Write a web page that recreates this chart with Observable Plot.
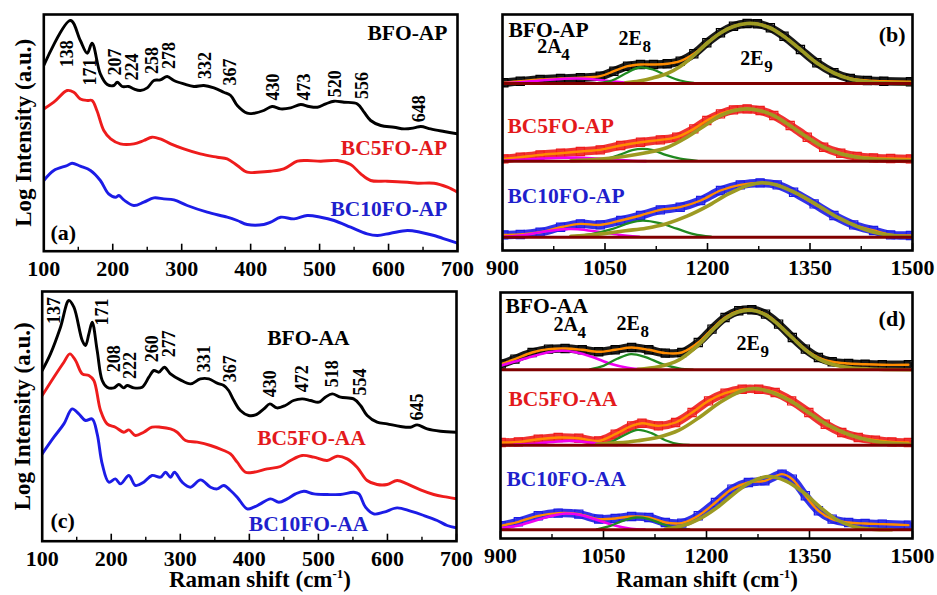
<!DOCTYPE html>
<html><head><meta charset="utf-8">
<script src="https://cdn.jsdelivr.net/npm/d3@7"></script>
<script src="https://cdn.jsdelivr.net/npm/@observablehq/plot@0.6"></script>
<style>
body{margin:0;background:#fff;}
#fig{position:relative;width:937px;height:595px;overflow:hidden;background:#fff;font-family:"Liberation Serif","Times New Roman",serif;}
.xt{position:absolute;font-weight:bold;font-size:23px;line-height:23px;white-space:nowrap;text-align:center;width:300px;}
.xt sup{font-size:13px;vertical-align:9px;line-height:0;}
</style></head><body><div id="fig"></div>
<script>
// ---------- Panel (a): as-prepared, 100-700 cm-1  [Raman shift, log intensity (a.u.)]
const a_BFO = [[100,185.7],[138.7,230.7],[153,210.7],[163,198],[170,208],[182,177.3],[192,166.7],[201.6,165.7],[206.5,169],[213.7,164.7],[223,164.7],[230.6,162.3],[240,160.7],[250,163.3],[259.7,170.7],[269,171.3],[279,174.7],[288.7,170.7],[303,167.3],[317.7,164.7],[332,165.7],[346.8,163.3],[361,159],[371,155.7],[380.6,145.7],[395,138],[405,138],[419,140.7],[431,144.7],[443.5,142.3],[458,143.3],[472.6,146.7],[484.7,144.7],[496.8,144],[508.9,147.3],[521,150],[535.5,149],[554.8,147.3],[564.5,139],[574,130.7],[588.7,125.7],[608,124],[622.6,122.3],[637,123.3],[646.8,124.7],[661,122.3],[680.6,119.7],[700,117.3]];
const a_BC5 = [[100,142.3],[114.5,149],[133.9,160.7],[143.5,159],[153,152.3],[163,150.7],[170,150.7],[177,140.7],[187,120.7],[197,112.3],[211,107.3],[230.6,107.3],[245,110.7],[257,114],[269,112.3],[284,107.3],[303,102.3],[327,97.3],[351.6,94],[366,92.3],[380.6,85.7],[395,79],[409.7,79],[429,80],[448,82.3],[467.8,90],[482,90.7],[501.6,90],[525.8,90.7],[545,86.7],[559.7,77.3],[574,70.7],[598,70],[627.4,69],[642,68],[666,68],[685.5,64],[700,59]];
const a_BC10 = [[100,70.7],[114.5,80.7],[134,85.7],[141,88],[153,85],[167.7,80.7],[182,70.7],[194,57.3],[204,54],[209,55.7],[216,51.3],[230.6,45.7],[245,49],[259.7,53.3],[274,52.3],[288.7,51.3],[308,45.7],[337,39],[366,34],[380.6,30.7],[395,26.7],[419,26.7],[429,29],[443.5,34],[463,32.3],[482,35.7],[501.6,34],[521,30.7],[545,24],[569,17.3],[584,15.7],[603,18],[627.4,20.7],[646,19],[666,15.7],[685.5,11.3],[700,8]];
const a_peaks = [["138",133.9,184],["171",166.8,165.7],["207",204,175.7],["224",228.2,170.7],["258",257.3,177.3],["278",281.5,182.3],["332",334.7,172.3],["367",370,165.7],["430",433,150.7],["473",477.4,150.7],["520",523.4,154],["556",562,152.3],["648",644.4,129]];
const a_names = [["BFO-AP",685.5,211.3],["BC5FO-AP",685,96.7],["BC10FO-AP",685.5,35.7]];

// ---------- Panel (c): annealed, 100-700 cm-1
const c_BFO = [[100,170.7],[112,187.3],[126.5,214],[138.6,240.7],[145.9,234],[158,200.7],[162.7,195.7],[167.6,207.3],[172.4,219],[179.6,190.7],[186.9,160.7],[194,154],[203.8,153.3],[211,156.7],[218,153.3],[223,155.7],[232.7,153.3],[244.8,154],[254.5,164],[261.7,170.7],[269,169],[277,174],[285.8,167.3],[300,161.3],[314.8,157.3],[329,162.3],[341.4,162.3],[353.4,158],[363,155.7],[370,150.7],[377.6,140.7],[387,130.7],[399,125.7],[409,126.3],[421,132.3],[429.7,137.3],[440,133.3],[452,135.7],[464,140.7],[476.5,142.3],[488.6,140.7],[500.6,139],[510,144],[520,147.3],[532,144],[551,142.3],[561,135.7],[570.6,125.7],[585,119],[599.6,117.3],[618.9,114.7],[633.4,114],[643,116.3],[657.5,112.3],[676.8,110],[700,109]];
const c_BC5 = [[100,145.7],[116.9,164],[131.4,179],[140,187.3],[148.3,180.7],[158,167.3],[167.6,165.7],[174.8,160.7],[184.5,130.7],[194,117.3],[206,114],[218.3,109],[225.5,111.3],[235,105.7],[247,109],[259,114],[271.4,114],[285.8,112.3],[295.5,109],[307.6,100.7],[324.5,99],[343.8,95.7],[363,90.7],[372.7,87.3],[382.4,79],[394.4,69],[406.5,69],[425.8,72.3],[445,74.7],[459.6,80.7],[476.5,85.7],[493.4,84],[512.7,80.7],[527,85],[541.7,82.3],[556,74],[570.6,60.7],[585,56.7],[599.6,56.7],[614,60.7],[628.6,57.3],[647.9,51.3],[667,46.7],[686.5,44],[700,42.3]];
const c_BC10 = [[100,87.3],[116.9,104],[131.4,117.3],[143.4,132.3],[153,127.3],[162.7,120.7],[172.4,122.3],[179.6,107.3],[186.9,77.3],[196.5,59],[206,62.3],[213.4,57.3],[225.5,65.7],[235,55.7],[247,59],[259,65.7],[271.4,64],[278.6,69],[285.8,64],[291.6,69],[302.7,59],[314.8,54],[329.3,61.3],[343.8,54],[353.4,52.3],[363,55.7],[372.7,50.7],[382.4,44],[396.9,32.3],[406.5,34],[416,37.3],[430.6,42.3],[442.7,39],[454.8,42.3],[466.9,47.3],[479,50],[493.4,47.3],[512.7,46.7],[532,46.7],[551.3,49],[558.6,47.3],[568.2,34],[580,27.3],[594.8,29],[614,33.3],[633.4,30],[652.7,25.7],[672,20.7],[686.5,15.7],[700,13.3]];
const c_peaks = [["137",117,217.3],["171",186.9,215.7],["208",203.8,169],["222",227,162.3],["260",259.3,179],["277",283.4,184],["331",334,169],["367",372.7,159],["430",430.6,144],["472",476.5,149],["518",520,154],["554",561,145.7],["645",643,120.7]];
const c_names = [["BFO-AA",425.8,196.7],["BC5FO-AA",411.3,96.7],["BC10FO-AA",399.3,10]];

// ---------- Panel (b): as-prepared, 900-1500 cm-1 (height above each baseline)
const b_offsets = [167, 89.3, 13.3];
const b_BFO_data = [[902,0.7],[926,2.3],[955,4],[985,5],[1014,5.7],[1043,7.3],[1063,12.3],[1083,17.3],[1102,19],[1121,19],[1141,19.7],[1160,22.3],[1180,29.7],[1199,40.7],[1219,50.7],[1238,57.3],[1258,60],[1273,59.7],[1292,55.7],[1312,47.3],[1336,34],[1360,20.7],[1385,10.7],[1409,5],[1434,3],[1458,2.3],[1497,1.7]];
const b_BFO_A4 = [[900,0.3],[930,1.5],[960,3.2],[990,4.8],[1010,5],[1035,4],[1060,2.2],[1085,0.8],[1110,0.2]];
const b_BFO_E8 = [[1040,0.5],[1060,3],[1080,10],[1100,16],[1120,14],[1140,8],[1160,3],[1180,0.5]];
const b_BFO_E9 = [[1080,0.8],[1100,2.5],[1120,5.5],[1141,10],[1160,17],[1180,28],[1199,40],[1219,50.5],[1238,57],[1258,60],[1273,59.5],[1292,55.5],[1312,47],[1336,34],[1360,20.5],[1385,10.5],[1409,4.5],[1434,1.8],[1460,0.6],[1500,0.1]];
const b_BC5_data = [[902,2.3],[926,4],[955,6.3],[985,8],[1014,9.7],[1043,11.3],[1073,15.7],[1102,19],[1131,21.3],[1155,24],[1180,32.3],[1199,40.7],[1219,47.3],[1238,51.3],[1258,52.3],[1277,50.7],[1297,45.7],[1321,35.7],[1346,24],[1370,14],[1395,8],[1419,4.7],[1443,3.3],[1468,2.7],[1497,2.3]];
const b_BC5_A4 = [[900,0.5],[930,1.5],[960,2.6],[990,3.4],[1015,3.5],[1040,2.6],[1065,1.3],[1090,0.4],[1110,0.1]];
const b_BC5_E8 = [[1030,0.3],[1050,2],[1070,6],[1090,11],[1105,12.3],[1120,11],[1140,6],[1160,2.5],[1185,0.3]];
const b_BC5_E9 = [[1000,0.5],[1040,2],[1080,5],[1110,8.5],[1140,13.5],[1170,24],[1199,37],[1219,45.5],[1238,50.5],[1258,52.3],[1277,50.5],[1297,45.5],[1321,35.5],[1346,24],[1370,14],[1395,7.5],[1419,4],[1443,2.2],[1470,1.2],[1500,0.6]];
const b_BC10_data = [[902,2.3],[926,2.7],[955,5],[985,10],[1014,13.3],[1043,12.3],[1073,16.7],[1102,21.7],[1131,27.3],[1160,30],[1190,36.7],[1219,46.7],[1248,52.3],[1277,54.3],[1302,52.3],[1326,45],[1356,33.3],[1385,21.7],[1414,12.3],[1443,6.7],[1468,2.3],[1497,1.7]];
const b_BC10_A4 = [[900,0.5],[930,2],[960,5.5],[990,8],[1010,8],[1040,5.5],[1070,2.5],[1100,0.5]];
const b_BC10_E8 = [[1000,0.5],[1030,3],[1060,8],[1085,14],[1105,16.5],[1130,14],[1155,8.5],[1180,3],[1205,0.5]];
const b_BC10_E9 = [[1000,1],[1040,3],[1080,6.5],[1110,9],[1140,13.5],[1170,21],[1200,31],[1230,43],[1260,52],[1280,54.5],[1300,52.5],[1330,44],[1360,32.5],[1390,20],[1420,10.5],[1450,4],[1480,1.2],[1500,0.5]];
const b_names = [["BFO-AP",908.8,214],["BC5FO-AP",907.3,117.3],["BC10FO-AP",907.3,47.3]];
const b_modes = [["2A","4",950.8,197.7],["2E","8",1069.8,206],["2E","9",1248,186]];

// ---------- Panel (d): annealed, 900-1500 cm-1
const d_offsets = [168.7, 93.3, 8.7];
const d_BFO_data = [[901,5.7],[921,10.7],[946,17.3],[970,20.7],[994,21.3],[1019,20],[1043,18],[1067,20],[1091,22.3],[1116,20],[1140,16.7],[1164,17.3],[1188,27.3],[1208,40.7],[1227,52.3],[1247,59],[1266,60],[1286,55.7],[1305,45.7],[1325,32.3],[1344,20.7],[1363,12.3],[1383,8],[1407,6.3],[1431,5.5],[1456,5],[1494,5]];
const d_BFO_A4 = [[900,4],[920,8],[945,13],[970,17.5],[990,19],[1010,17.5],[1035,12.5],[1060,6],[1085,2],[1110,0.3]];
const d_BFO_E8 = [[1030,0.5],[1050,4],[1070,11],[1090,15.7],[1110,13],[1135,6],[1160,1.5],[1180,0.2]];
const d_BFO_E9 = [[1100,0.5],[1130,3],[1160,10],[1190,26],[1208,39],[1227,51],[1247,58],[1266,59.5],[1286,55],[1305,45],[1325,32],[1344,20],[1363,11],[1383,5.5],[1410,2],[1450,0.5],[1500,0.1]];
const d_BC5_data = [[901,2.7],[926,3.3],[955,6],[984,7.7],[1014,7],[1043,4.3],[1067,11],[1091,19.3],[1106,22],[1130,19.3],[1155,22.7],[1179,32.7],[1203,44.3],[1227,52],[1252,56],[1276,56],[1300,52.7],[1324,44.3],[1349,32.7],[1373,21],[1397,12.7],[1421,7.7],[1446,5],[1470,3.3],[1494,2.7]];
const d_BC5_A4 = [[920,0.3],[950,1.5],[980,3.5],[1000,4.3],[1020,3.5],[1045,1.5],[1070,0.3]];
const d_BC5_E8 = [[1040,0.3],[1060,3],[1080,10],[1100,15.3],[1120,12],[1140,5],[1160,1],[1175,0.2]];
const d_BC5_E9 = [[1040,1],[1070,2.3],[1100,4.5],[1130,8],[1160,15],[1190,28],[1220,43],[1250,54],[1268,56.7],[1290,54],[1320,45],[1350,32],[1380,19],[1410,10],[1440,4.5],[1470,1.8],[1500,0.7]];
const d_BC10_data = [[901,4],[926,8],[955,14],[984,16.7],[1014,15.7],[1043,10.7],[1067,11.3],[1091,13.3],[1116,12.3],[1140,7.3],[1164,6.7],[1188,14],[1213,27.3],[1237,40.7],[1261,47.3],[1285,49],[1310,55.7],[1325,50.7],[1344,34],[1363,19],[1383,10.7],[1407,7.3],[1431,6.3],[1456,5.7],[1494,4.7]];
const d_BC10_A4 = [[900,1.5],[925,4],[950,9],[975,14],[995,16.3],[1015,15],[1040,10],[1065,4.5],[1090,1],[1110,0.2]];
const d_BC10_E8 = [[1040,0.5],[1060,4],[1080,9.5],[1097,12.3],[1115,11],[1135,6],[1155,2],[1175,0.3]];
const d_BC10_E9 = [[1140,0.8],[1165,4],[1190,11],[1215,22],[1240,36],[1265,48],[1290,53.3],[1315,49],[1340,38],[1365,23],[1390,10],[1415,3],[1440,0.7],[1470,0.1]];
const d_names = [["BFO-AA",907.3,226],["BC5FO-AA",911.7,132.7],["BC10FO-AA",908.7,52.7]];
const d_modes = [["2A","4",977.2,207.7],["2E","8",1069,208.7],["2E","9",1243.7,188.7]];

// ---------- ticks
const lowMajor = [100,200,300,400,500,600,700];
const lowMinor = [150,250,350,450,550,650];
const highMajor = [900,1050,1200,1350,1500];
const highMinor = [975,1125,1275,1425];

// ---------- styles
const FONT = "'Liberation Serif','Times New Roman',serif";
const COLORS = ["#000000", "#ee1c1c", "#1c1ce6"];
const TEXTCOLORS = ["#000000", "#e3191c", "#1f1fcc"];
const FIT = {sum: "#ff8c00", A4: "#f000f0", E8: "#208a20", E9: "#9d9a22", base: "#800000"};
const fig = document.getElementById("fig");

function panel(box, frame, xDomain, yDomain, marks, ticks) {
  const [left, top, width, height] = box;
  const [fl, fr, ft, fb] = frame;
  const ph = fb - ft;
  const svg = Plot.plot({
    width, height,
    marginLeft: fl - left, marginRight: left + width - fr,
    marginTop: ft - top, marginBottom: top + height - fb,
    x: {domain: xDomain, axis: null},
    y: {domain: yDomain, axis: null},
    style: {background: "transparent", overflow: "visible", fontFamily: FONT, fontWeight: "bold", fontSize: "20px", color: "#000"},
    marks: [
      ...marks,
      Plot.ruleX(ticks[0], {x: d => d, insetTop: ph - 7, stroke: "#000", strokeWidth: 1.6}),
      Plot.ruleX(ticks[1], {x: d => d, insetTop: ph - 4, stroke: "#000", strokeWidth: 1.4}),
      Plot.axisX({ticks: ticks[0], tickSize: 0, tickPadding: 9, fontSize: 22, fontWeight: "bold", label: null, tickFormat: d => String(d)}),
      Plot.frame({stroke: "#000", strokeWidth: 2.6})
    ]
  });
  svg.style.position = "absolute";
  svg.style.left = left + "px";
  svg.style.top = top + "px";
  fig.appendChild(svg);
}

function lowMarks(series, peaks, names, tag) {
  const m = [];
  series.forEach((s, i) => m.push(Plot.line(s, {x: d => d[0], y: d => d[1], stroke: COLORS[i], strokeWidth: 2.9, curve: "catmull-rom", clip: true})));
  m.push(Plot.text(peaks, {x: d => d[1], y: d => d[2], text: d => d[0], rotate: -90, textAnchor: "start", lineAnchor: "middle", fontSize: 18, fontWeight: "bold", fill: "#000"}));
  m.push(Plot.text(names, {x: d => d[1], y: d => d[2], text: d => d[0], textAnchor: tag.anchor, lineAnchor: "bottom", fontSize: 21.5, fontWeight: "bold", fill: (d, i) => TEXTCOLORS[i]}));
  m.push(Plot.text([tag.label], {x: tag.x, y: tag.y, text: d => d, textAnchor: "start", lineAnchor: "bottom", fontSize: 22, fontWeight: "bold", fill: "#000"}));
  m.push(Plot.text(["Log Intensity (a.u.)"], {frameAnchor: "left", textAnchor: "middle", lineAnchor: "middle", rotate: -90, dx: -20, text: d => d, fontSize: 23, fontWeight: "bold", fill: "#000"}));
  return m;
}

function highMarks(offsets, specs, names, modes, tag) {
  const m = [];
  specs.forEach((s, i) => {
    const off = offsets[i];
    const X = d => d[0], Y = d => d[1] + off;
    m.push(Plot.line(s.data, {x: X, y: Y, stroke: COLORS[i], strokeWidth: 8.5, strokeOpacity: 0.9, curve: "catmull-rom", clip: true}));
    m.push(Plot.dot(s.data, {x: X, y: Y, symbol: "square", r: 4.6, stroke: COLORS[i], strokeWidth: 1.2, fill: "none", clip: true}));
    m.push(Plot.line(s.data, {x: X, y: Y, stroke: FIT.sum, strokeWidth: 2.4, curve: "catmull-rom", clip: true}));
    m.push(Plot.line(s.A4, {x: X, y: Y, stroke: FIT.A4, strokeWidth: 2.6, curve: "catmull-rom", clip: true}));
    m.push(Plot.line(s.E8, {x: X, y: Y, stroke: FIT.E8, strokeWidth: 2.3, curve: "catmull-rom", clip: true}));
    m.push(Plot.line(s.E9, {x: X, y: Y, stroke: FIT.E9, strokeWidth: 3.6, curve: "catmull-rom", clip: true}));
    m.push(Plot.ruleY([off], {y: d => d, stroke: FIT.base, strokeWidth: 3}));
  });
  m.push(Plot.text(names, {x: d => d[1], y: d => d[2], text: d => d[0], textAnchor: "start", lineAnchor: "bottom", fontSize: 21.5, fontWeight: "bold", fill: (d, i) => TEXTCOLORS[i]}));
  m.push(Plot.text(modes, {x: d => d[2], y: d => d[3], text: d => d[0], textAnchor: "start", lineAnchor: "bottom", fontSize: 20, fontWeight: "bold", fill: "#000"}));
  m.push(Plot.text(modes, {x: d => d[2], y: d => d[3], text: d => d[1], dx: 24, dy: 7, textAnchor: "start", lineAnchor: "bottom", fontSize: 17, fontWeight: "bold", fill: "#000"}));
  m.push(Plot.text([tag.label], {x: tag.x, y: tag.y, text: d => d, textAnchor: "end", lineAnchor: "bottom", fontSize: 22, fontWeight: "bold", fill: "#000"}));
  return m;
}

// (a)
panel([0, 0, 470, 290], [43.3, 457, 14, 250.7], [100, 700], [0, 236.7],
  lowMarks([a_BFO, a_BC5, a_BC10], a_peaks, a_names, {anchor: "end", label: "(a)", x: 109.7, y: 11.3}),
  [lowMajor, lowMinor]);
// (b)
panel([470, 0, 467, 290], [502, 912, 14, 250], [900, 1500], [0, 236],
  highMarks(b_offsets, [
    {data: b_BFO_data, A4: b_BFO_A4, E8: b_BFO_E8, E9: b_BFO_E9},
    {data: b_BC5_data, A4: b_BC5_A4, E8: b_BC5_E8, E9: b_BC5_E9},
    {data: b_BC10_data, A4: b_BC10_A4, E8: b_BC10_E8, E9: b_BC10_E9}
  ], b_names, b_modes, {label: "(b)", x: 1489.8, y: 208.7}),
  [highMajor, highMinor]);
// (c)
panel([0, 290, 470, 305], [41.7, 456, 291, 540.7], [100, 700], [0, 249.7],
  lowMarks([c_BFO, c_BC5, c_BC10], c_peaks, c_names, {anchor: "start", label: "(c)", x: 112, y: 13.3}),
  [lowMajor, lowMinor]);
// (d)
panel([470, 290, 467, 305], [500, 912, 292, 538], [900, 1500], [0, 246],
  highMarks(d_offsets, [
    {data: d_BFO_data, A4: d_BFO_A4, E8: d_BFO_E8, E9: d_BFO_E9},
    {data: d_BC5_data, A4: d_BC5_A4, E8: d_BC5_E8, E9: d_BC5_E9},
    {data: d_BC10_data, A4: d_BC10_A4, E8: d_BC10_E8, E9: d_BC10_E9}
  ], d_names, d_modes, {label: "(d)", x: 1489.8, y: 212.7}),
  [highMajor, highMinor]);

// x-axis titles below the lower panels
[[260, 568], [707, 568]].forEach(([cx, top]) => {
  const t = document.createElement("div");
  t.className = "xt";
  t.style.left = (cx - 150) + "px";
  t.style.top = top + "px";
  t.innerHTML = "Raman shift (cm<sup>-1</sup>)";
  fig.appendChild(t);
});
</script></body></html>
